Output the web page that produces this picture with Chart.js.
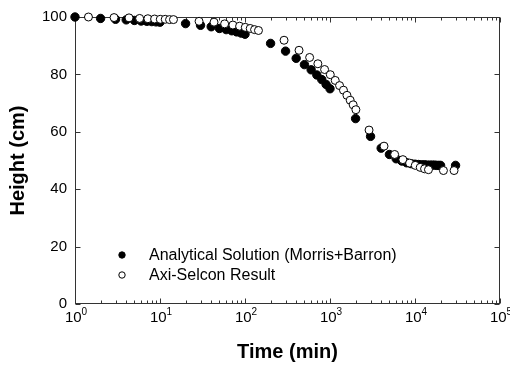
<!DOCTYPE html>
<html>
<head>
<meta charset="utf-8">
<script src="https://cdn.jsdelivr.net/npm/chart.js@4"></script>
<style>
  html, body { margin: 0; padding: 0; background: #fff; }
  canvas { display: block; }
</style>
</head>
<body>
<canvas id="chart" width="510" height="367"></canvas>
<script>
// time in minutes, height in cm
const analyticTime = [1, 2, 3, 4, 5, 6, 7, 8, 9, 10,
  20, 30, 40, 50, 60, 70, 80, 90, 100,
  200, 300, 400, 500, 600, 700, 800, 900, 1000,
  2000, 3000, 4000, 5000, 6000, 7000, 8000, 9000, 10000,
  11000, 12000, 13000, 14000, 15000, 16000, 17000, 18000, 19000, 20000, 30000];
const analyticHeight = [100, 99.5, 99.2, 99.0, 98.8, 98.6, 98.5, 98.4, 98.3, 98.2,
  97.7, 97.1, 96.6, 96.0, 95.6, 95.2, 94.8, 94.4, 94.0,
  90.8, 88.1, 85.6, 83.4, 81.6, 79.8, 78.2, 76.5, 75.0,
  64.6, 58.4, 54.3, 52.1, 50.6, 49.8, 49.2, 48.9, 48.7,
  48.6, 48.5, 48.5, 48.4, 48.4, 48.4, 48.4, 48.3, 48.3, 48.3, 48.3];

const selconTime = [1.44, 2.88, 4.32, 5.76, 7.2, 8.64, 10.08, 11.52, 12.96, 14.4,
  28.8, 43.2, 57.6, 72, 86.4, 100.8, 115.2, 129.6, 144,
  288, 432, 576, 720, 864, 1008, 1152, 1296, 1440, 1584, 1728, 1872, 2016,
  2880, 4320, 5760, 7200, 8640, 10080, 11520, 12960, 14400, 21600, 28800];
const selconHeight = [100, 99.8, 99.7, 99.5, 99.4, 99.3, 99.2, 99.2, 99.1, 99.1,
  98.5, 98.2, 97.6, 97.2, 96.8, 96.4, 96.0, 95.6, 95.3,
  91.9, 88.4, 85.9, 83.7, 81.7, 79.9, 77.9, 76.1, 74.5, 72.7, 71.0, 69.4, 67.7,
  60.6, 55.0, 52.1, 50.3, 49.1, 48.3, 47.6, 47.1, 46.8, 46.5, 46.5];

const yTicks = [0, 20, 40, 60, 80, 100];
const xDecades = [0, 1, 2, 3, 4, 5];
const seriesNames = ["Analytical Solution (Morris+Barron)", "Axi-Selcon Result"];

const FONT = "'Liberation Sans', Arial, sans-serif";
Chart.defaults.font.family = FONT;
Chart.defaults.color = "#000";

const toPoints = (xs, ys) => xs.map((t, i) => ({ x: t, y: ys[i] }));

// box, inward ticks, log labels and legend
const framePlugin = {
  id: "frame",
  beforeDatasetsDraw(chart) {
    const { ctx, chartArea: a, scales: { x, y } } = chart;
    const L = Math.round(a.left) + 0.5, R = Math.round(a.right) - 0.5;
    const T = Math.round(a.top) + 0.5, B = Math.round(a.bottom) - 0.5;
    ctx.save();
    ctx.strokeStyle = "#333";
    ctx.lineWidth = 1;
    ctx.strokeRect(L, T, R - L, B - T);
    ctx.beginPath();
    for (let e = xDecades[0]; e <= xDecades[xDecades.length - 1]; e++) {
      for (let m = 1; m <= 9; m++) {
        const v = m * Math.pow(10, e);
        if (v > x.max) break;
        const px = Math.round(x.getPixelForValue(v)) + 0.5;
        const len = m === 1 ? 5 : 3;
        ctx.moveTo(px, B); ctx.lineTo(px, B - len);
        ctx.moveTo(px, T); ctx.lineTo(px, T + len);
      }
    }
    yTicks.forEach((v) => {
      const py = Math.round(y.getPixelForValue(v)) + 0.5;
      ctx.moveTo(L, py); ctx.lineTo(L + 5, py);
      ctx.moveTo(R, py); ctx.lineTo(R - 5, py);
    });
    ctx.stroke();
    ctx.restore();
  },
  afterDraw(chart) {
    const { ctx, chartArea: a, scales: { x } } = chart;
    ctx.save();
    ctx.fillStyle = "#000";
    ctx.textBaseline = "alphabetic";
    xDecades.forEach((e) => {
      const px = x.getPixelForValue(Math.pow(10, e));
      ctx.font = "15px " + FONT;
      const w1 = ctx.measureText("10").width;
      ctx.font = "10px " + FONT;
      const w2 = ctx.measureText(String(e)).width;
      const start = px - (w1 + w2) / 2 + 1;
      ctx.font = "15px " + FONT;
      ctx.fillText("10", start, a.bottom + 18);
      ctx.font = "10px " + FONT;
      ctx.fillText(String(e), start + w1, a.bottom + 11);
    });

    // legend inside the plot
    const lx = 122, ly = 255, gap = 20;
    chart.data.datasets.forEach((ds, i) => {
      const cy = ly + i * gap;
      ctx.beginPath();
      ctx.arc(lx, cy, 3.2, 0, Math.PI * 2);
      ctx.fillStyle = ds.backgroundColor;
      ctx.fill();
      ctx.lineWidth = 1;
      ctx.strokeStyle = ds.borderColor;
      ctx.stroke();
      ctx.fillStyle = "#000";
      ctx.font = "16px " + FONT;
      ctx.textBaseline = "middle";
      ctx.fillText(ds.label, 149, cy + 1);
    });
    ctx.restore();
  }
};

new Chart(document.getElementById("chart").getContext("2d"), {
  type: "scatter",
  data: {
    datasets: [
      {
        label: seriesNames[0],
        data: toPoints(analyticTime, analyticHeight),
        backgroundColor: "#000",
        borderColor: "#000",
        pointRadius: 4.2,
        pointBorderWidth: 1,
        order: 1,
        clip: false
      },
      {
        label: seriesNames[1],
        data: toPoints(selconTime, selconHeight),
        backgroundColor: "#fff",
        borderColor: "#000",
        pointRadius: 4,
        pointBorderWidth: 1,
        order: 0,
        clip: false
      }
    ]
  },
  options: {
    responsive: false,
    animation: false,
    layout: { padding: { top: 17, right: 10, bottom: 0, left: 0 } },
    plugins: {
      legend: { display: false },
      tooltip: { enabled: false }
    },
    scales: {
      x: {
        type: "logarithmic",
        min: 1,
        max: 100000,
        grid: { display: false, drawTicks: false },
        border: { display: false },
        ticks: { display: false },
        title: {
          display: true,
          text: "Time (min)",
          font: { size: 20, weight: "bold" },
          padding: { top: 0, bottom: 3 }
        },
        afterFit(scale) { scale.height = 63; }
      },
      y: {
        min: 0,
        max: 100,
        grid: { display: false, drawTicks: false },
        border: { display: false },
        afterBuildTicks(scale) { scale.ticks = yTicks.map((v) => ({ value: v })); },
        ticks: { font: { size: 15 }, padding: 8 },
        title: {
          display: true,
          text: "Height (cm)",
          font: { size: 20, weight: "bold" },
          padding: { top: 6, bottom: 0 }
        },
        afterFit(scale) { scale.width = 75; }
      }
    }
  },
  plugins: [framePlugin]
});
</script>
</body>
</html>
